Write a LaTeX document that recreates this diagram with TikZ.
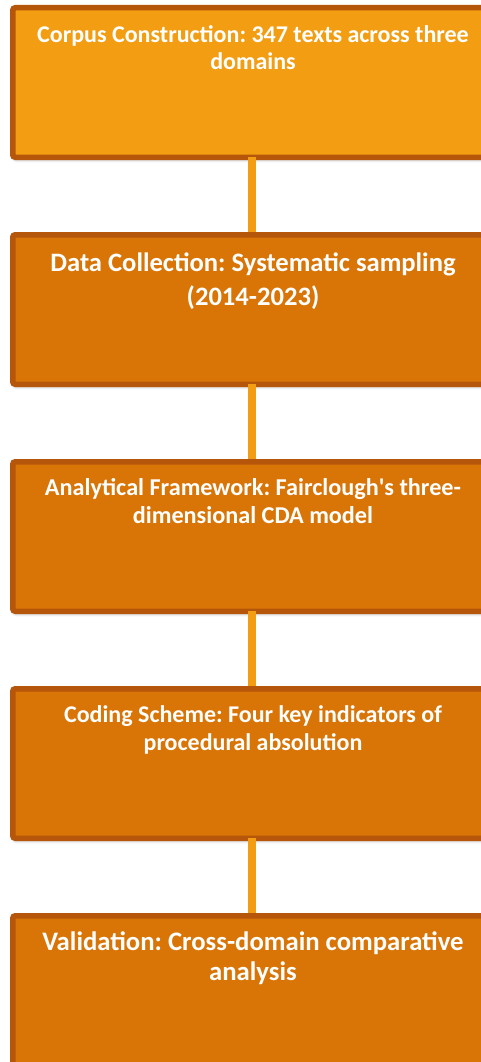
\documentclass[tikz,border=0pt]{standalone}
\usepackage{fontspec}
\setmainfont{Carlito}
\usetikzlibrary{shadows.blur}
\frenchspacing
\definecolor{boxA}{RGB}{243,158,18}
\definecolor{boxB}{RGB}{217,117,6}
\definecolor{edgeC}{RGB}{181,86,10}
\definecolor{linkC}{RGB}{243,158,18}
\newcommand{\boxtext}[4]{%
  \begin{minipage}[c][149.5pt][t]{470pt}\centering
  \fontsize{#1}{#2}\selectfont\bfseries\color{white}\rule{0pt}{#3}#4\end{minipage}}
\begin{document}
\begin{tikzpicture}[x=1pt,y=-1pt,
  stepbox/.style={draw=edgeC, line width=5.5pt, rounded corners=2.5pt,
    minimum width=480.5pt, minimum height=149.5pt, inner sep=0pt,
    blur shadow={shadow blur steps=6, shadow xshift=1pt, shadow yshift=-2.5pt,
      shadow blur radius=3pt, shadow opacity=35}},
  link/.style={draw=linkC, line width=8pt}]
\useasboundingbox (0,0) rectangle (481,1062);
\node[stepbox, fill=boxA] (b1) at (253,82.5)
  {\boxtext{24}{27}{35.25pt}{Corpus Construction: 347 texts across three\\domains}};
\node[stepbox, fill=boxB] (b2) at (253,309.5)
  {\boxtext{26.6}{34}{37pt}{Data Collection: Systematic sampling\\(2014-2023)}};
\node[stepbox, fill=boxB] (b3) at (253,536.5)
  {\boxtext{24.2}{28}{34pt}{Analytical Framework: Fairclough\textquotesingle s three-\\dimensional CDA model}};
\node[stepbox, fill=boxB] (b4) at (253,763.5)
  {\boxtext{24}{28}{34pt}{Coding Scheme: Four key indicators of\\procedural absolution}};
\node[stepbox, fill=boxB] (b5) at (253,990.5)
  {\boxtext{26.7}{30}{35pt}{Validation: Cross-domain comparative\\analysis}};
\draw[link] ([xshift=-1pt,yshift=3pt]b1.south) -- ([xshift=-1pt]b2.north);
\draw[link] ([xshift=-1pt,yshift=3pt]b2.south) -- ([xshift=-1pt]b3.north);
\draw[link] ([xshift=-1pt,yshift=3pt]b3.south) -- ([xshift=-1pt]b4.north);
\draw[link] ([xshift=-1pt,yshift=3pt]b4.south) -- ([xshift=-1pt]b5.north);
\end{tikzpicture}
\end{document}
